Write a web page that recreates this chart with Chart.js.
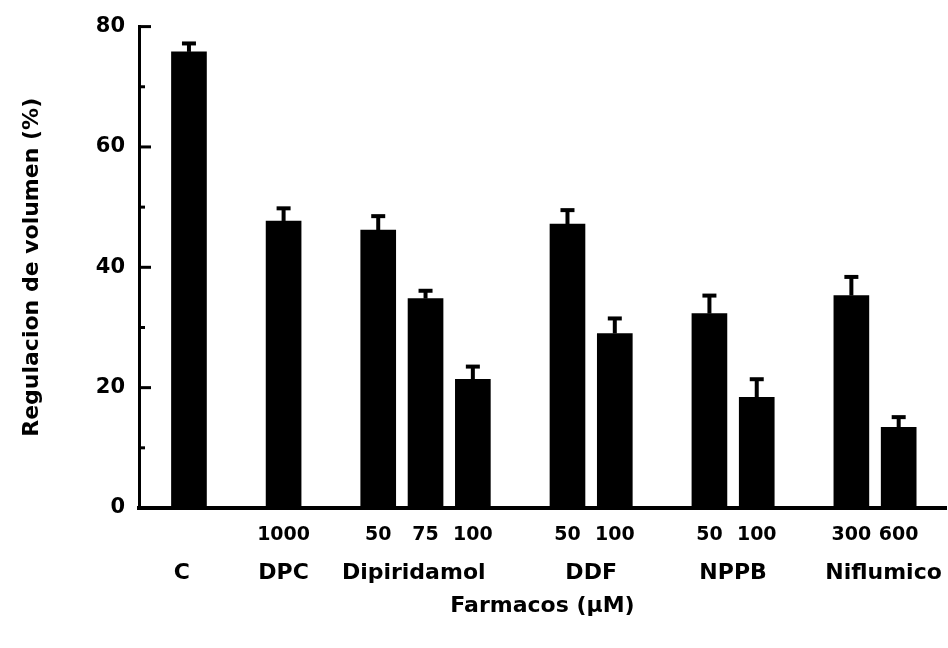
<!DOCTYPE html>
<html>
<head>
<meta charset="utf-8">
<script src="https://cdn.jsdelivr.net/npm/chart.js@4"></script>
<style>
  html, body { margin: 0; padding: 0; background: #fff; }
  #wrap { width: 948px; height: 648px; }
</style>
</head>
<body>
<div id="wrap"><canvas id="grafico" width="948" height="648"></canvas></div>
<script>
// posiciones de las barras (en "huecos" del eje x)
const posiciones = [0, 2, 4, 5, 6, 8, 9, 11, 12, 14, 15];
const dosis = ['', '1000', '50', '75', '100', '50', '100', '50', '100', '300', '600'];
const regulacion = [75.8, 47.7, 46.2, 34.8, 21.4, 47.2, 29.0, 32.3, 18.4, 35.3, 13.4];
const errores = [1.4, 2.1, 2.3, 1.3, 2.1, 2.3, 2.5, 3.0, 3.0, 3.1, 1.7];

// nombres de los farmacos centrados bajo cada grupo
const farmacos = ['C', 'DPC', 'Dipiridamol', 'DDF', 'NPPB', 'Niflumico'];
const centrosFarmacos = [-0.15, 2, 4.75, 8.5, 11.5, 14.68];

const ticksY = [0, 10, 20, 30, 40, 50, 60, 70, 80];

const fuente = "'DejaVu Sans', sans-serif";

// barras de error (solo hacia arriba) y marcas del eje y hacia dentro
const extras = {
  id: 'extras',
  afterDatasetsDraw(chart) {
    const ctx = chart.ctx;
    const x = chart.scales.x;
    const y = chart.scales.y;
    ctx.save();
    ctx.strokeStyle = '#000';
    ctx.lineCap = 'butt';
    posiciones.forEach((p, i) => {
      const px = x.getPixelForValue(p);
      const yTop = y.getPixelForValue(regulacion[i]);
      const yErr = y.getPixelForValue(regulacion[i] + errores[i]);
      ctx.lineWidth = 4;
      ctx.beginPath();
      ctx.moveTo(px, yTop);
      ctx.lineTo(px, yErr);
      ctx.stroke();
      ctx.beginPath();
      ctx.moveTo(px - 7, yErr);
      ctx.lineTo(px + 7, yErr);
      ctx.stroke();
    });
    // marcas del eje y
    ctx.lineWidth = 3;
    ticksY.forEach(v => {
      const py = y.getPixelForValue(v);
      const largo = v % 20 === 0 ? 12 : 6;
      ctx.beginPath();
      ctx.moveTo(chart.chartArea.left, py);
      ctx.lineTo(chart.chartArea.left + largo, py);
      ctx.stroke();
    });
    ctx.restore();
  }
};

const sinRelleno = s => { s.paddingLeft = 0; s.paddingRight = 0; };

new Chart(document.getElementById('grafico'), {
  type: 'bar',
  data: {
    datasets: [{
      data: posiciones.map((p, i) => ({ x: p, y: regulacion[i] })),
      backgroundColor: '#000',
      borderWidth: 0,
      barThickness: 35
    }]
  },
  options: {
    responsive: false,
    animation: false,
    layout: { padding: { top: 25, right: 2, left: 0, bottom: 0 } },
    plugins: { legend: { display: false }, tooltip: { enabled: false } },
    scales: {
      x: {
        type: 'linear',
        position: 'bottom',
        offset: false,
        weight: 0,
        min: -1.056,
        max: 16.0,
        grid: { display: false, drawTicks: false, tickLength: 0, offset: false },
        border: { display: true, color: '#000', width: 4 },
        afterBuildTicks: s => { s.ticks = posiciones.map(v => ({ value: v })); },
        afterFit: s => { s.height = 40; sinRelleno(s); },
        ticks: {
          autoSkip: false,
          maxRotation: 0,
          padding: 16,
          color: '#000',
          font: { family: fuente, size: 19, weight: 'bold' },
          callback: (v, i) => dosis[i]
        }
      },
      x2: {
        type: 'linear',
        position: 'bottom',
        offset: false,
        weight: 1,
        min: -1.056,
        max: 16.0,
        grid: { display: false, drawTicks: false, tickLength: 0, offset: false },
        border: { display: false },
        afterBuildTicks: s => { s.ticks = centrosFarmacos.map(v => ({ value: v })); },
        afterFit: s => { s.height = 100; sinRelleno(s); },
        ticks: {
          autoSkip: false,
          maxRotation: 0,
          padding: 12,
          color: '#000',
          font: { family: fuente, size: 22, weight: 'bold' },
          callback: (v, i) => farmacos[i]
        },
        title: {
          display: true,
          text: 'Farmacos (µM)',
          color: '#000',
          font: { family: fuente, size: 22, weight: 'bold' },
          padding: { top: 0, bottom: 29 }
        }
      },
      y: {
        min: 0,
        max: 80,
        grid: { display: false, drawTicks: false, tickLength: 0 },
        border: { display: true, color: '#000', width: 3 },
        afterBuildTicks: s => { s.ticks = ticksY.map(v => ({ value: v })); },
        afterFit: s => { s.width = 139; },
        ticks: {
          padding: 14,
          color: '#000',
          font: { family: fuente, size: 21, weight: 'bold' },
          callback: v => (v % 20 === 0 ? String(v) : '')
        },
        title: {
          display: true,
          text: 'Regulacion de volumen (%)',
          color: '#000',
          font: { family: fuente, size: 22, weight: 'bold' },
          padding: { top: 19, bottom: 0 }
        }
      }
    }
  },
  plugins: [extras]
});
</script>
</body>
</html>
